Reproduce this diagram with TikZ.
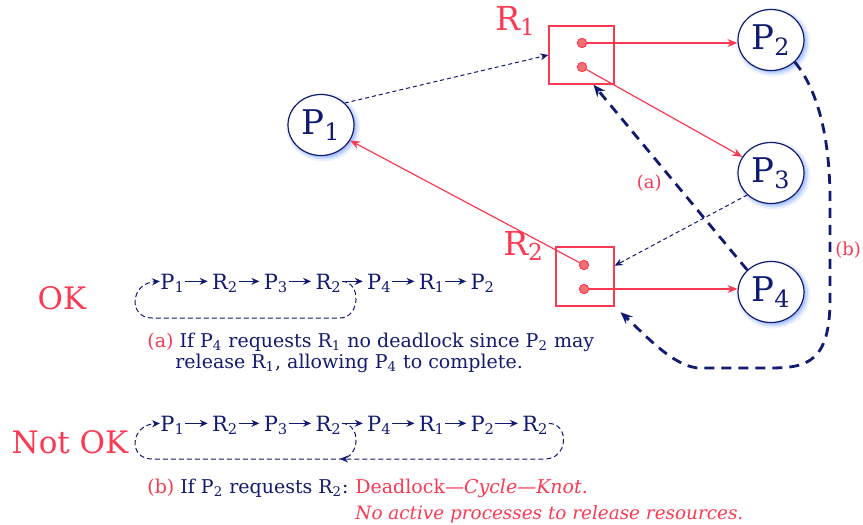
\documentclass[tikz,border=0pt]{standalone}
\usepackage{fontspec}
\setmainfont{DejaVu Serif}
\usetikzlibrary{arrows.meta,positioning,shapes.geometric,shadows}
\definecolor{procblue}{RGB}{16,26,112}
\definecolor{resred}{RGB}{250,58,82}
\definecolor{dotred}{RGB}{240,112,118}
\definecolor{glowblue}{RGB}{90,140,255}
\begin{document}
\begin{tikzpicture}[x=0.5pt,y=-0.5pt,line cap=butt,line join=miter,
	glow/.style={drop shadow={shadow xshift=1pt,shadow yshift=-1pt,shadow scale=1.12,fill=glowblue,opacity=.12},
		drop shadow={shadow xshift=1pt,shadow yshift=-1pt,shadow scale=1.06,fill=glowblue,opacity=.2},
		drop shadow={shadow xshift=1pt,shadow yshift=-1pt,fill=glowblue,opacity=.3}},
	proc/.style={ellipse,draw=procblue,line width=0.6pt,fill=white,glow,minimum width=33pt,minimum height=30.5pt,
		inner sep=0pt,text=procblue,font=\fontsize{17}{20}\selectfont},
	res/.style={rectangle,draw=resred,line width=0.7pt,inner sep=0pt},
	inst/.style={circle,draw=resred,fill=dotred,minimum size=4.6pt,inner sep=0pt,line width=0.4pt},
	reslabel/.style={text=resred,font=\fontsize{16.5}{19}\selectfont,inner sep=0pt},
	assign/.style={-{Stealth[length=5pt,width=4pt]},draw=resred,line width=0.6pt},
	request/.style={-{Stealth[length=4pt,width=3.5pt]},draw=procblue,line width=0.5pt,dash pattern=on 2pt off 1.5pt},
	claim/.style={-{Stealth[length=6pt,width=5pt]},draw=procblue,line width=1.4pt,dash pattern=on 5pt off 3.5pt},
	chainitem/.style={anchor=base west,inner sep=0pt,text depth=0pt,text=procblue,font=\fontsize{10.5}{12}\selectfont},
	chainlink/.style={-{Stealth[length=4pt,width=3.5pt]},draw=procblue,line width=0.6pt,shorten >=2pt},
	cycleline/.style={-{Stealth[length=4pt,width=3.5pt]},draw=procblue,line width=0.5pt,dash pattern=on 2.5pt off 1.5pt},
	note/.style={anchor=base west,inner sep=0pt,text=procblue,font=\fontsize{9.5}{10.5}\selectfont},
	verdict/.style={text=resred,font=\fontsize{15.5}{19}\selectfont,inner sep=0pt},
	tag/.style={text=resred,font=\fontsize{9}{11}\selectfont,inner sep=0pt}]
	\useasboundingbox (0,0) rectangle (863,525);
	% processes
	\node[proc] (P1) at (321,125) {P\textsubscript{1}};
	\node[proc] (P2) at (771,40) {P\textsubscript{2}};
	\node[proc] (P3) at (771,173) {P\textsubscript{3}};
	\node[proc] (P4) at (771,292) {P\textsubscript{4}};
	% resources
	\node[res,minimum width=32.5pt,minimum height=29pt] (R1) at (581.5,55) {};
	\node[res,minimum width=29pt,minimum height=29.5pt] (R2) at (585,276.5) {};
	\node[reslabel,left=6pt of R1.north west,yshift=2pt] (R1lbl) {R\textsubscript{1}};
	\node[reslabel,left=5.5pt of R2.north west] (R2lbl) {R\textsubscript{2}};
	% assignment edges
	\draw[assign] (582,43) node[inst] (r1a) {} (r1a) -- (r1a -| P2.west);
	\draw[assign] (582,67) node[inst] (r1b) {} (r1b) -- (P3);
	\draw[assign] (584,265) node[inst] (r2a) {} (r2a) -- (P1);
	\draw[assign] (584,289) node[inst] (r2b) {} (r2b) -- (r2b -| P4.west);
	\node[inst] at (r1a) {};
	\node[inst] at (r1b) {};
	\node[inst] at (r2a) {};
	\node[inst] at (r2b) {};
	% request edges
	\draw[request] (P1.north east) -- (R1.west);
	\draw[request] (P3.south west) -- (R2.20);
	\draw[claim] (P4.north west) -- node[tag,pos=.47,left=6pt] (tagA) {(a)} (R1.-68);
	\draw[claim,shorten >=4pt] (P2.south east) .. controls (822,95) and (830,150) .. (830,200)
		-- node[tag,right=2pt] (tagB) {(b)} (830,300)
		.. controls (830,370) and (800,368) .. (760,368) -- (700,368)
		.. controls (675,368) and (645,335) .. (R2.south east);
	% OK case
	\node[verdict] (ok) at (62,298) {OK};
	\foreach \lett/\idx [count=\i] in {P/1,R/2,P/3,R/2,P/4,R/1,P/2}
		\node[chainitem] (ok\i) at ({160+51.7*(\i-1)},289) {\lett\textsubscript{\idx}};
	\foreach \i [evaluate=\i as \j using int(\i+1)] in {1,...,6}
		\draw[chainlink] (ok\i) -- (ok\j);
	\draw[cycleline] (ok4.east) .. controls (362,282) and (360,318) .. (340,318) -- (152,318)
		.. controls (128,318) and (130,283) .. (ok1.west);
	\node[note] (noteA1) at (147,347) {\textcolor{resred}{(a)} If P\textsubscript{4} requests R\textsubscript{1} no deadlock since P\textsubscript{2} may};
	\node[note] (noteA2) at (175,368) {release R\textsubscript{1}, allowing P\textsubscript{4} to complete.};
	% Not OK case
	\node[verdict] (notok) at (70,442) {Not OK};
	\foreach \lett/\idx [count=\i] in {P/1,R/2,P/3,R/2,P/4,R/1,P/2,R/2}
		\node[chainitem] (nk\i) at ({160+51.7*(\i-1)},431) {\lett\textsubscript{\idx}};
	\foreach \i [evaluate=\i as \j using int(\i+1)] in {1,...,7}
		\draw[chainlink] (nk\i) -- (nk\j);
	\coordinate (merge) at (340,459);
	\draw[cycleline] (nk4.east) .. controls (362,424) and (360,459) .. (merge) -- (152,459)
		.. controls (128,459) and (130,425) .. (nk1.west);
	\draw[cycleline] (nk8.east) .. controls (570,424) and (568,459) .. (545,459) -- (merge);
	\node[note] (noteB1) at (147,493) {\textcolor{resred}{(b)} If P\textsubscript{2} requests R\textsubscript{2}:};
	\node[note,text=resred,base right=3pt of noteB1] (noteB2) {Deadlock\textit{---Cycle---Knot.}};
	\node[note,text=resred,font=\fontsize{9.2}{10.5}\selectfont\itshape] (noteB3) at ([yshift=-13pt]noteB2.base west) {No active processes to release resources.};
\end{tikzpicture}
\end{document}
